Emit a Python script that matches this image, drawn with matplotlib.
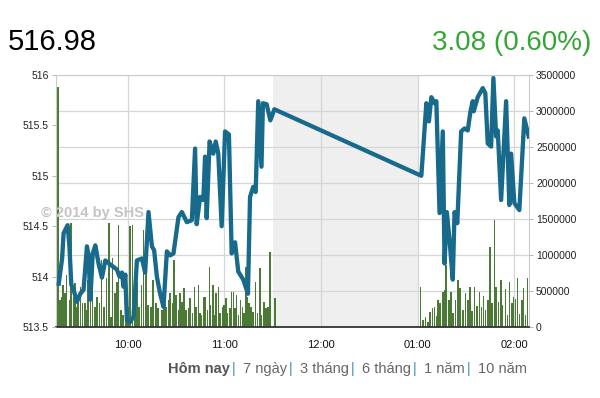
import matplotlib
matplotlib.use('Agg')
import matplotlib.pyplot as plt
from matplotlib.ticker import FixedLocator

plt.rcParams['font.family'] = ['Liberation Sans', 'DejaVu Sans']

# ---------------- data (time = minutes after 09:00) ----------------
price_times_am = [17.2, 19.3, 20.2, 22.7, 23.8, 25.0, 26.4, 28.5, 30.6, 32.6,
                  34.7, 35.7, 36.8, 38.3, 39.9, 41.9, 44.0, 46.1, 49.2, 53.3,
                  54.9, 56.4, 57.4, 58.5, 59.5, 61.5, 63.6, 65.7, 68.8, 70.8,
                  72.9, 75.0, 76.4, 78.1, 80.1, 82.2, 84.3, 86.3, 88.4, 91.5,
                  93.6, 96.7, 99.8, 101.8, 102.8, 104.9, 106.9, 108.0, 109.0, 110.8,
                  113.1, 114.6, 116.2, 118.3, 120.4, 122.8, 124.5, 126.6, 128.6, 131.7,
                  134.6, 135.9, 137.9, 139.4, 141.0, 143.0, 143.9, 146.2, 148.5, 151.0]
price_am = [513.93, 514.18, 514.43, 514.51, 514.31, 513.92, 513.87, 513.75, 513.83, 513.87,
            514.30, 514.21, 513.77, 514.23, 514.31, 514.13, 513.99, 514.16, 514.12, 514.07,
            514.00, 514.04, 513.90, 514.02, 513.57, 513.55, 513.60, 514.16, 514.18, 514.04,
            514.64, 514.30, 514.26, 514.00, 513.83, 513.70, 514.25, 514.21, 514.23, 514.59,
            514.64, 514.54, 514.56, 515.27, 514.52, 514.79, 514.76, 515.19, 514.58, 515.34,
            515.22, 515.34, 515.22, 514.50, 515.44, 515.41, 514.23, 514.34, 514.05, 513.97,
            513.83, 514.79, 514.89, 514.84, 515.74, 515.09, 515.72, 515.71, 515.55, 515.66]
price_times_pm = [242.2, 245.3, 246.9, 248.4, 250.4, 251.5, 253.5, 255.5, 256.6, 258.0,
                  259.7, 261.7, 262.8, 264.5, 266.9, 269.0, 271.0, 272.7, 274.1, 274.7,
                  277.2, 280.3, 281.9, 283.4, 285.5, 286.9, 288.6, 289.6, 291.7, 294.8,
                  296.8, 297.9, 299.9, 303.0, 306.1, 308.8]
price_pm = [515.00, 515.72, 515.54, 515.78, 515.72, 515.74, 514.63, 515.44, 514.13, 514.64,
            514.36, 513.97, 514.64, 514.53, 515.44, 515.47, 515.45, 515.64, 515.74, 515.64,
            515.78, 515.87, 515.82, 515.32, 515.29, 515.97, 515.39, 515.45, 514.76, 515.74,
            514.71, 515.22, 514.73, 514.66, 515.57, 515.39]

vol_times_am = [16.7, 17.9, 18.8, 19.8, 21.0, 22.1, 23.8, 24.8, 26.3, 27.3,
                28.1, 29.3, 30.6, 32.0, 33.5, 34.5, 35.2, 36.8, 38.2, 39.7,
                40.9, 42.4, 43.8, 45.4, 46.9, 48.5, 49.6, 50.6, 52.1, 53.3,
                54.3, 55.8, 57.2, 58.9, 60.3, 61.5, 63.1, 64.5, 65.7, 67.1,
                68.5, 69.8, 71.3, 72.7, 74.4, 75.8, 77.5, 78.9, 81.2, 82.6,
                83.8, 85.3, 86.3, 87.7, 88.8, 90.0, 91.5, 92.5, 93.6, 95.0,
                96.2, 97.6, 98.7, 100.1, 101.4, 102.4, 103.8, 104.9, 105.9, 106.9,
                108.0, 109.4, 110.7, 111.5, 112.8, 113.7, 114.8, 116.2, 117.3, 118.7,
                119.9, 121.0, 122.0, 123.5, 124.5, 125.5, 126.6, 127.6, 128.6, 130.1,
                131.3, 132.3, 133.4, 134.2, 135.4, 136.5, 137.9, 139.4, 140.4, 142.0,
                143.1, 144.5, 145.8, 147.2, 148.2, 151.3]
vol_am = [3330, 375, 421, 583, 468, 722, 375, 1440, 421, 607,
          282, 421, 560, 329, 329, 236, 653, 468, 931, 282,
          421, 329, 931, 282, 676, 1440, 144, 954, 468, 630,
          1420, 236, 167, 607, 282, 1400, 1420, 653, 630, 282,
          583, 1347, 769, 300, 282, 653, 329, 259, 236, 421,
          282, 375, 468, 329, 931, 444, 236, 468, 352, 537,
          236, 259, 398, 190, 560, 282, 583, 190, 167, 421,
          421, 236, 838, 306, 583, 167, 468, 560, 190, 282,
          306, 398, 190, 259, 491, 491, 259, 444, 167, 375,
          282, 190, 838, 421, 329, 282, 213, 630, 190, 815,
          167, 352, 259, 282, 1046, 398]   # thousands
vol_times_pm = [241.6, 243.2, 244.8, 246.3, 247.7, 249.0, 250.4, 251.5, 252.5, 253.9,
                255.5, 256.6, 257.6, 259.3, 260.7, 261.7, 263.4, 264.8, 266.3, 267.9,
                269.6, 271.0, 272.5, 273.7, 275.2, 276.6, 278.3, 279.5, 280.7, 282.0,
                283.4, 284.9, 286.1, 287.6, 288.6, 290.0, 291.7, 292.7, 294.4, 295.8,
                296.8, 298.3, 299.3, 300.6, 302.0, 303.0, 304.7, 305.7, 306.8, 308.2]
vol_pm = [560, 97, 143, 69, 212, 260, 282, 153, 375, 333,
          490, 514, 861, 375, 486, 194, 375, 653, 542, 236,
          472, 375, 556, 222, 556, 292, 486, 278, 431, 236,
          375, 1111, 333, 1486, 556, 347, 653, 306, 528, 167,
          625, 333, 417, 389, 681, 181, 375, 542, 167, 681]   # thousands

hour_ticks = [60, 120, 180, 240, 300]
hour_labels = ['10:00', '11:00', '12:00', '01:00', '02:00']
price_ticks = [513.5, 514, 514.5, 515, 515.5, 516]
vol_ticks = [0, 500000, 1000000, 1500000, 2000000, 2500000, 3000000, 3500000]
last_price = '516.98'
change_text = '3.08 (0.60%)'
period_links = ['Hôm nay', '7 ngày', '3 tháng', '6 tháng', '1 năm', '10 năm']
break_span = (150, 240)

# ---------------- figure ----------------
W, H = 600, 398
fig = plt.figure(figsize=(W / 100, H / 100), dpi=100)
fig.patch.set_facecolor('white')
L, R, T, B = 56, 529, 75, 327
axv = fig.add_axes([L / W, 1 - B / H, (R - L) / W, (B - T) / H])
axp = axv.twinx()

axv.axvspan(*break_span, color='#efefef', zorder=0, lw=0)
axv.set_axisbelow(True)
axv.bar(vol_times_am + vol_times_pm, [v * 1000 for v in vol_am + vol_pm],
        width=0.95, color='#4b7a36', zorder=2, linewidth=0)
axv.set_ylim(0, 3500000)
axv.set_xlim(15.5, 309)
axv.yaxis.set_major_locator(FixedLocator(vol_ticks))
axv.set_yticklabels([str(v) for v in vol_ticks])
axv.yaxis.tick_right()
axv.set_xticks(hour_ticks)
axv.set_xticklabels(hour_labels)
axv.grid(True, color='#d6d6d6', linewidth=0.9)
axv.tick_params(axis='y', labelsize=7.5, length=3, color='#bbbbbb', pad=2, labelcolor='#222222')
axv.tick_params(axis='x', labelsize=8, length=0, pad=9, labelcolor='#111111')
for s in ['top', 'left', 'right']:
    axv.spines[s].set_color('#cccccc')
axv.spines['bottom'].set_color('#333333')
axv.spines['bottom'].set_linewidth(1.3)

axp.plot(price_times_am + price_times_pm, price_am + price_pm,
         color='#176a8c', linewidth=3.1, solid_joinstyle='round', zorder=5)
axp.set_ylim(513.5, 516)
axp.yaxis.set_major_locator(FixedLocator(price_ticks))
axp.set_yticklabels(['%g' % v for v in price_ticks])
axp.yaxis.tick_left()
axp.tick_params(axis='y', labelsize=7.5, length=3, color='#bbbbbb', pad=2, labelcolor='#222222')
for s in axp.spines.values():
    s.set_visible(False)

# watermark
axp.text(41, H - 213, '\u00a9 2014 by SHS', transform=None, fontsize=10.5,
         fontweight='bold', color='#c4c4c4', va='center', ha='left', zorder=1,
         clip_on=False)

# header
fig.text(8 / W, 1 - 50 / H, last_price, fontsize=21, color='#000000',
         ha='left', va='baseline')
fig.text(591 / W, 1 - 50 / H, change_text, fontsize=20, color='#35a535',
         ha='right', va='baseline')

# period links
fig.canvas.draw()
renderer = fig.canvas.get_renderer()
x = 168
y = 1 - 369 / H
for i, lab in enumerate(period_links):
    t = fig.text(x / W, y, lab, fontsize=10.5, va='center', ha='left',
                 color='#555555' if i == 0 else '#666666',
                 fontweight='bold' if i == 0 else 'normal')
    x = t.get_window_extent(renderer).x1 + 1.5
    if i < len(period_links) - 1:
        s = fig.text(x / W, y, '|', fontsize=10.5, va='center', ha='left', color='#3a8fb0')
        x = s.get_window_extent(renderer).x1 + 8

fig.savefig('out.png', dpi=100)
